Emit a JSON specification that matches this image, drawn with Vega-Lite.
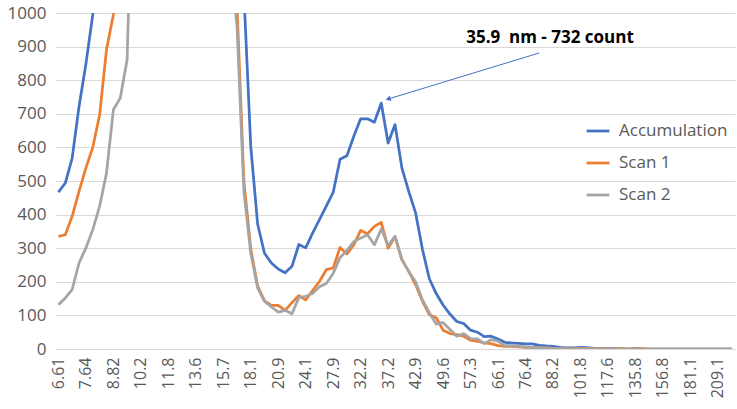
{
  "$schema": "https://vega.github.io/schema/vega-lite/v6.json",
  "autosize": {"type": "none"},
  "padding": {"left": 55, "top": 13, "right": 2, "bottom": 60},
  "width": 680,
  "height": 336,
  "config": {
    "view": {"stroke": null},
    "font": "Open Sans"
  },
  "datasets": {
    "psd": [
      {"size":"6.61","Accumulation":467,"Scan 1":335,"Scan 2":132},
      {"size":"6.85","Accumulation":494,"Scan 1":340,"Scan 2":152},
      {"size":"7.10","Accumulation":568,"Scan 1":395,"Scan 2":177},
      {"size":"7.37","Accumulation":722,"Scan 1":469,"Scan 2":256},
      {"size":"7.64","Accumulation":848,"Scan 1":539,"Scan 2":301},
      {"size":"7.91","Accumulation":995,"Scan 1":600,"Scan 2":355},
      {"size":"8.20","Accumulation":1180,"Scan 1":697,"Scan 2":425},
      {"size":"8.51","Accumulation":1420,"Scan 1":891,"Scan 2":524},
      {"size":"8.82","Accumulation":1700,"Scan 1":995,"Scan 2":712},
      {"size":"9.14","Accumulation":2000,"Scan 1":1150,"Scan 2":747},
      {"size":"9.47","Accumulation":2300,"Scan 1":1350,"Scan 2":861},
      {"size":"9.82","Accumulation":2600,"Scan 1":1600,"Scan 2":1600},
      {"size":"10.2","Accumulation":2850,"Scan 1":1850,"Scan 2":2000},
      {"size":"10.6","Accumulation":3050,"Scan 1":2050,"Scan 2":2200},
      {"size":"10.9","Accumulation":3200,"Scan 1":2200,"Scan 2":2300},
      {"size":"11.3","Accumulation":3300,"Scan 1":2300,"Scan 2":2350},
      {"size":"11.8","Accumulation":3350,"Scan 1":2350,"Scan 2":2350},
      {"size":"12.2","Accumulation":3330,"Scan 1":2330,"Scan 2":2300},
      {"size":"12.6","Accumulation":3250,"Scan 1":2250,"Scan 2":2200},
      {"size":"13.1","Accumulation":3100,"Scan 1":2100,"Scan 2":2050},
      {"size":"13.6","Accumulation":2900,"Scan 1":1950,"Scan 2":1900},
      {"size":"14.1","Accumulation":2650,"Scan 1":1800,"Scan 2":1750},
      {"size":"14.6","Accumulation":2350,"Scan 1":1650,"Scan 2":1600},
      {"size":"15.1","Accumulation":2050,"Scan 1":1500,"Scan 2":1450},
      {"size":"15.7","Accumulation":1750,"Scan 1":1350,"Scan 2":1300},
      {"size":"16.3","Accumulation":1500,"Scan 1":1200,"Scan 2":1150},
      {"size":"16.8","Accumulation":1250,"Scan 1":1020,"Scan 2":960},
      {"size":"17.5","Accumulation":1060,"Scan 1":500,"Scan 2":470},
      {"size":"18.1","Accumulation":603,"Scan 1":298,"Scan 2":285},
      {"size":"18.8","Accumulation":372,"Scan 1":187,"Scan 2":182},
      {"size":"19.5","Accumulation":285,"Scan 1":143,"Scan 2":142},
      {"size":"20.2","Accumulation":256,"Scan 1":130,"Scan 2":125},
      {"size":"20.9","Accumulation":238,"Scan 1":130,"Scan 2":110},
      {"size":"21.7","Accumulation":227,"Scan 1":115,"Scan 2":115},
      {"size":"22.5","Accumulation":246,"Scan 1":138,"Scan 2":105},
      {"size":"23.3","Accumulation":311,"Scan 1":159,"Scan 2":153},
      {"size":"24.1","Accumulation":301,"Scan 1":146,"Scan 2":157},
      {"size":"25.0","Accumulation":345,"Scan 1":174,"Scan 2":165},
      {"size":"25.9","Accumulation":385,"Scan 1":201,"Scan 2":185},
      {"size":"26.9","Accumulation":425,"Scan 1":236,"Scan 2":195},
      {"size":"27.9","Accumulation":466,"Scan 1":241,"Scan 2":225},
      {"size":"28.9","Accumulation":565,"Scan 1":302,"Scan 2":272},
      {"size":"30.0","Accumulation":575,"Scan 1":283,"Scan 2":293},
      {"size":"31.1","Accumulation":633,"Scan 1":310,"Scan 2":320},
      {"size":"32.2","Accumulation":685,"Scan 1":353,"Scan 2":330},
      {"size":"33.4","Accumulation":685,"Scan 1":343,"Scan 2":340},
      {"size":"34.6","Accumulation":675,"Scan 1":365,"Scan 2":310},
      {"size":"35.9","Accumulation":732,"Scan 1":377,"Scan 2":357},
      {"size":"37.2","Accumulation":613,"Scan 1":300,"Scan 2":308},
      {"size":"38.5","Accumulation":668,"Scan 1":335,"Scan 2":335},
      {"size":"40.0","Accumulation":539,"Scan 1":266,"Scan 2":266},
      {"size":"41.4","Accumulation":469,"Scan 1":231,"Scan 2":231},
      {"size":"42.9","Accumulation":405,"Scan 1":191,"Scan 2":200},
      {"size":"44.5","Accumulation":296,"Scan 1":142,"Scan 2":146},
      {"size":"46.1","Accumulation":209,"Scan 1":102,"Scan 2":108},
      {"size":"47.8","Accumulation":165,"Scan 1":93,"Scan 2":74},
      {"size":"49.6","Accumulation":131,"Scan 1":56,"Scan 2":79},
      {"size":"51.4","Accumulation":104,"Scan 1":46,"Scan 2":58},
      {"size":"53.3","Accumulation":82,"Scan 1":43,"Scan 2":38},
      {"size":"55.2","Accumulation":76,"Scan 1":38,"Scan 2":46},
      {"size":"57.3","Accumulation":56,"Scan 1":26,"Scan 2":31},
      {"size":"59.4","Accumulation":50,"Scan 1":23,"Scan 2":30},
      {"size":"61.5","Accumulation":37,"Scan 1":18,"Scan 2":16},
      {"size":"63.8","Accumulation":38,"Scan 1":16,"Scan 2":28},
      {"size":"66.1","Accumulation":30,"Scan 1":10,"Scan 2":23},
      {"size":"68.5","Accumulation":20,"Scan 1":8,"Scan 2":10},
      {"size":"71.0","Accumulation":18,"Scan 1":8,"Scan 2":10},
      {"size":"73.7","Accumulation":17,"Scan 1":6,"Scan 2":8},
      {"size":"76.4","Accumulation":15,"Scan 1":5,"Scan 2":6},
      {"size":"79.1","Accumulation":15,"Scan 1":5,"Scan 2":5},
      {"size":"82.0","Accumulation":11,"Scan 1":4,"Scan 2":4},
      {"size":"85.1","Accumulation":9,"Scan 1":3,"Scan 2":3},
      {"size":"88.2","Accumulation":8,"Scan 1":2,"Scan 2":2},
      {"size":"91.4","Accumulation":5,"Scan 1":1,"Scan 2":1},
      {"size":"94.7","Accumulation":3,"Scan 1":0,"Scan 2":1},
      {"size":"98.2","Accumulation":3,"Scan 1":1,"Scan 2":0},
      {"size":"101.8","Accumulation":5,"Scan 1":2,"Scan 2":1},
      {"size":"105.5","Accumulation":4,"Scan 1":2,"Scan 2":1},
      {"size":"109.4","Accumulation":2,"Scan 1":1,"Scan 2":0},
      {"size":"113.4","Accumulation":1,"Scan 1":1,"Scan 2":0},
      {"size":"117.6","Accumulation":1,"Scan 1":0,"Scan 2":0},
      {"size":"121.9","Accumulation":1,"Scan 1":1,"Scan 2":0},
      {"size":"126.3","Accumulation":0,"Scan 1":1,"Scan 2":0},
      {"size":"131.0","Accumulation":0,"Scan 1":0,"Scan 2":0},
      {"size":"135.8","Accumulation":1,"Scan 1":1,"Scan 2":0},
      {"size":"140.7","Accumulation":0,"Scan 1":1,"Scan 2":0},
      {"size":"145.9","Accumulation":0,"Scan 1":0,"Scan 2":0},
      {"size":"151.2","Accumulation":0,"Scan 1":0,"Scan 2":0},
      {"size":"156.8","Accumulation":0,"Scan 1":0,"Scan 2":0},
      {"size":"162.5","Accumulation":0,"Scan 1":0,"Scan 2":0},
      {"size":"168.5","Accumulation":0,"Scan 1":0,"Scan 2":0},
      {"size":"174.7","Accumulation":0,"Scan 1":0,"Scan 2":0},
      {"size":"181.1","Accumulation":0,"Scan 1":0,"Scan 2":0},
      {"size":"187.7","Accumulation":0,"Scan 1":0,"Scan 2":0},
      {"size":"194.6","Accumulation":0,"Scan 1":0,"Scan 2":0},
      {"size":"201.7","Accumulation":0,"Scan 1":0,"Scan 2":0},
      {"size":"209.1","Accumulation":0,"Scan 1":0,"Scan 2":0},
      {"size":"216.7","Accumulation":0,"Scan 1":0,"Scan 2":0},
      {"size":"224.7","Accumulation":0,"Scan 1":0,"Scan 2":0}
    ],
    "note": [
      {"size":"88.2","count":926,"label":"35.9\u00a0 nm - 732 count"}
    ],
    "arrow": [
      {"size":"82.0","count":881,"size2":"37.2","count2":744}
    ],
    "head": [
      {"size":"37.2","count":744}
    ]
  },
  "encoding": {
    "x": {
      "field": "size",
      "type": "ordinal",
      "sort": null,
      "scale": {"type": "point", "padding": 0.5},
      "axis": {
        "title": null,
        "values": ["6.61","7.64","8.82","10.2","11.8","13.6","15.7","18.1","20.9","24.1","27.9","32.2","37.2","42.9","49.6","57.3","66.1","76.4","88.2","101.8","117.6","135.8","156.8","181.1","209.1"],
        "labelAngle": -90,
        "labelFontSize": 16,
        "labelColor": "#595959",
        "labelPadding": 8,
        "ticks": false,
        "domain": false,
        "grid": false
      }
    },
    "y": {
      "field": "count",
      "type": "quantitative",
      "scale": {"domain": [0, 1000], "nice": false},
      "axis": {
        "title": null,
        "format": "d",
        "values": [0,100,200,300,400,500,600,700,800,900,1000],
        "labelFontSize": 17,
        "labelColor": "#595959",
        "labelPadding": 9,
        "ticks": false,
        "domain": false,
        "grid": true,
        "gridColor": "#D9D9D9",
        "gridWidth": 1
      }
    }
  },
  "layer": [
    {
      "data": {"name": "psd"},
      "transform": [{"fold": ["Accumulation", "Scan 1", "Scan 2"], "as": ["series", "count"]}],
      "mark": {"type": "line", "strokeWidth": 2.75, "clip": true, "strokeJoin": "round"},
      "encoding": {
        "color": {
          "field": "series",
          "type": "nominal",
          "scale": {"domain": ["Accumulation", "Scan 1", "Scan 2"], "range": ["#4472C4", "#ED7D31", "#A5A5A5"]},
          "legend": {
            "title": null,
            "orient": "none",
            "legendX": 530,
            "legendY": 105,
            "padding": 0,
            "symbolType": "stroke",
            "symbolSize": 520,
            "symbolStrokeWidth": 2.75,
            "labelFontSize": 17,
            "labelColor": "#595959",
            "labelOffset": 8,
            "rowPadding": 11
          }
        }
      }
    },
    {
      "data": {"name": "arrow"},
      "mark": {"type": "rule", "color": "#4472C4", "strokeWidth": 1},
      "encoding": {
        "x2": {"field": "size2"},
        "y2": {"field": "count2"}
      }
    },
    {
      "data": {"name": "head"},
      "mark": {"type": "point", "shape": "triangle-left", "filled": true, "color": "#4472C4", "size": 35, "angle": 343, "opacity": 1},
      "encoding": {}
    },
    {
      "data": {"name": "note"},
      "mark": {"type": "text", "fontSize": 17, "fontWeight": "bold", "color": "#000000", "dx": -3, "baseline": "middle", "align": "center"},
      "encoding": {"text": {"field": "label"}}
    }
  ]
}
